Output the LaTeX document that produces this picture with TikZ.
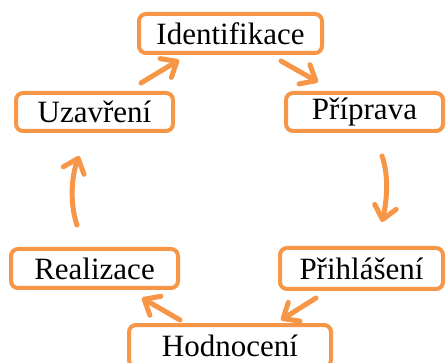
\documentclass[tikz,border=0pt]{standalone}
\usepackage{fontspec}
\setmainfont{Liberation Serif}
\usetikzlibrary{arrows.meta}
\definecolor{orng}{HTML}{F79646}
\begin{document}
\begin{tikzpicture}[x=1pt,y=-1pt,
  box/.style={draw=orng,line width=4pt,rounded corners=7pt,fill=white,inner sep=0pt,
    font=\fontsize{31}{36}\selectfont,text=black,anchor=center},
  arr/.style={draw=orng,line width=5pt,line cap=round,
    -{Straight Barb[length=13pt,width=22pt,line cap=round,line join=round]}}]
\clip (0,0) rectangle (447,363);
\node[box,minimum width=183pt,minimum height=39pt] (id) at (230.5,33.5) {Identifikace};
\node[box,minimum width=157pt,minimum height=38pt] (uz) at (94.5,112) {Uzavření};
\node[box,minimum width=157pt,minimum height=38pt] (pr) at (364.5,112) {Příprava};
\node[box,minimum width=167pt,minimum height=39pt] (re) at (94.5,268.5) {Realizace};
\node[box,minimum width=163pt,minimum height=41pt] (ph) at (361.5,268.5) {Přihlášení};
\node[box,minimum width=202pt,minimum height=42pt] (ho) at (230,346) {Hodnocení};
\coordinate (a1s) at (141,83); \coordinate (a1e) at (179,60);
\coordinate (a2s) at (281,61); \coordinate (a2e) at (318,82);
\coordinate (a3s) at (382,156); \coordinate (a3e) at (382,222);
\coordinate (a4s) at (316,298); \coordinate (a4e) at (281,320);
\coordinate (a5s) at (180,320); \coordinate (a5e) at (142,298);
\coordinate (a6s) at (77,225); \coordinate (a6e) at (79,156);
\draw[arr] (a1s) -- (a1e);
\draw[arr] (a2s) -- (a2e);
\draw[arr] (a3s) .. controls (389,176) and (387,200) .. (a3e);
\draw[arr] (a4s) -- (a4e);
\draw[arr] (a5s) -- (a5e);
\draw[arr] (a6s) .. controls (70,205) and (71,178) .. (a6e);
\end{tikzpicture}
\end{document}
